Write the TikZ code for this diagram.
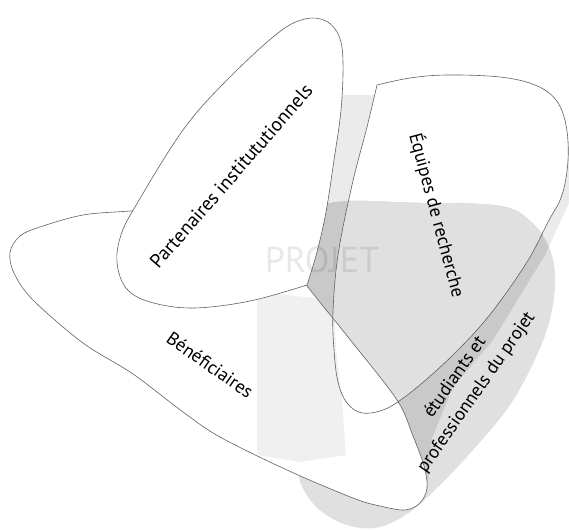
\documentclass[tikz,border=0pt]{standalone}
\usepackage{fontspec}
\setmainfont{PT Sans}
\begin{document}
\begin{tikzpicture}[x=1pt,y=-1pt,
  outline/.style={draw=black!62, line width=0.6pt},
  lbl/.style={font=\fontsize{18.5}{22}\selectfont, inner sep=0pt}]
\useasboundingbox (0,0) rectangle (569,530);
\def\Ppath{plot[smooth, tension=0.6] coordinates {(307,285) (250,301) (193,308) (150,302) (126,288) (117,262) (121,235) (135,207) (183,130) (228,79) (278,33) (305,19) (326,21) (339,36) (343,62) (341,110) (334,160) (326,212) (317,252) (307,285)} -- cycle}
\def\Epath{plot[smooth, tension=0.6] coordinates {(377,85) (410,78) (447,75) (500,77) (535,85) (556,100) (566,125) (568,160) (562,195) (548,222) (527,262) (492,312) (460,348) (428,378) (402,399) (383,410) (362,413) (347,403) (338,382) (334,350) (333,312) (338,255) (352,185) (367,127) (377,85)} -- cycle}
\def\Bpath{plot[smooth cycle, tension=0.55] coordinates {(245,205) (268,234) (307,286) (352,342) (397,400) (413,436) (424,466) (427,488) (420,503) (405,510) (380,506) (353,498) (287,470) (220,437) (183,412) (133,374) (83,343) (33,300) (14,273) (10,252) (20,236) (40,227) (83,215) (130,211) (200,206)}}
\def\Spath{plot[smooth cycle, tension=0.6] coordinates {(323,205) (420,203) (500,206) (530,221) (548,245) (555,275) (551,315) (537,355) (510,405) (473,450) (440,485) (410,512) (380,527) (350,526) (322,512) (305,492) (298,470) (296,420) (300,330) (310,250)}}
\def\Tpath{(330,95) -- (395,95) -- (600,150) -- (575,190) -- (545,255) -- (493,340) -- (453,387) -- (432,438) -- (427,492) -- (410,480) -- (320,400) -- (300,300) -- (322,150) -- cycle}
% light background band
\fill[black!8] \Tpath;
\fill[white] \Epath;
\fill[black!12] \Spath;
\begin{scope}
  \clip \Tpath;
  \fill[black!21] \Spath;
\end{scope}
\begin{scope}
  \clip \Epath;
  \fill[black!12] \Spath;
\end{scope}
\fill[white] \Bpath;
\begin{scope}
  \clip \Bpath;
  \fill[black!6] (257,292) -- (334,300) -- (336,350) -- (342,400) -- (346,455) -- (300,462) -- (257,455) -- cycle;
\end{scope}
\draw[outline] \Bpath;
\draw[outline] \Epath;
\fill[white] \Ppath;
\draw[outline] \Ppath;
\node[font=\fontsize{36}{36}\selectfont, text=black, text opacity=0.09, inner sep=0pt] (projet) at (322,260) {PROJET};
\node[lbl, rotate=49, font=\fontsize{19.5}{22}\selectfont] (part) at (231,176) {Partenaires institututionnels};
\node[lbl, rotate=-75] (equ) at (437,215) {Équipes de recherche};
\node[lbl, rotate=-35] (ben) at (210,365) {Bénéficiaires};
\node[lbl, rotate=55, align=center, font=\fontsize{18.5}{26}\selectfont] (etu) at (466,385) {étudiants et\\professionnels du projet};
\end{tikzpicture}
\end{document}
